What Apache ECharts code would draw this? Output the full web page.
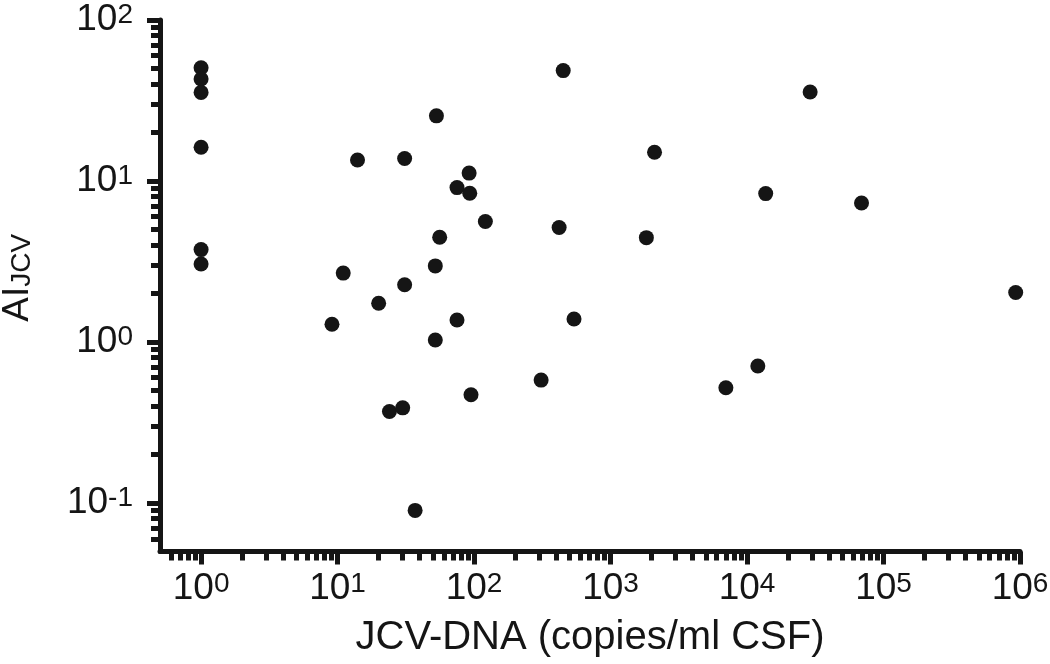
<!DOCTYPE html>
<html>
<head>
<meta charset="utf-8">
<title>AI JCV vs JCV-DNA</title>
<script src="https://cdn.jsdelivr.net/npm/echarts@6/dist/echarts.min.js"></script>
<style>
  html, body { margin: 0; padding: 0; background: #fff; }
  #chart { width: 1050px; height: 664px; }
</style>
</head>
<body>
<div id="chart"></div>
<script>
// JCV-DNA copies/ml CSF (x) and antibody index AI_JCV (y)
const jcvDna = [
  1, 1, 1, 1, 1, 1,
  53, 14, 31, 92, 75, 93, 121, 56,
  11, 52, 31, 20, 9.1, 75, 52,
  310, 95, 24, 30, 37,
  450, 29000, 2100, 13700, 69000, 420, 1830,
  930000, 540, 12000, 7000
];
const aiJcv = [
  50.5, 43, 35.5, 16.2, 3.75, 3.05,
  25.4, 13.5, 13.8, 11.2, 9.1, 8.4, 5.6, 4.47,
  2.68, 2.97, 2.27, 1.74, 1.29, 1.37, 1.03,
  0.58, 0.47, 0.37, 0.39, 0.09,
  48.5, 35.7, 15.1, 8.35, 7.3, 5.14, 4.45,
  2.03, 1.39, 0.71, 0.52
];

const xRange = [0.5, 1e6];
const yRange = [0.05, 100];
const xMajor = [1, 10, 100, 1e3, 1e4, 1e5, 1e6];
const yMajor = [0.1, 1, 10, 100];
const minorSteps = [2, 3, 4, 5, 6, 7, 8, 9];

// minor ticks at 2..9 of each decade, kept inside the axis range
const minorTicks = (decades, range) => {
  const out = [];
  decades.forEach(d => minorSteps.forEach(s => {
    const v = +(d * s).toPrecision(6);
    if (v > range[0] && v < range[1]) out.push(v);
  }));
  return out;
};
const xMinor = minorTicks([0.1, 1, 10, 100, 1e3, 1e4, 1e5], xRange);
const yMinor = minorTicks([0.01, 0.1, 1, 10], yRange);

const ink = '#151515';
const font = 'Liberation Sans, Arial, sans-serif';
const powLabel = (v) => '{m|10}{s|' + Math.round(Math.log10(v)) + '}';
const labelRich = {
  m: { fontSize: 37, lineHeight: 37, padding: [8, 0, 0, 0], verticalAlign: 'bottom', color: ink, fontFamily: font },
  s: { fontSize: 28, lineHeight: 28, verticalAlign: 'top', color: ink, fontFamily: font }
};

const majorAxis = (range, ticks, margin) => ({
  type: 'log',
  min: range[0],
  max: range[1],
  axisLine: { show: true, lineStyle: { color: ink, width: 5 } },
  axisTick: { show: true, customValues: ticks, length: 13, lineStyle: { color: ink, width: 5 } },
  axisLabel: { show: true, customValues: ticks, margin: margin, formatter: powLabel, rich: labelRich },
  splitLine: { show: false },
  minorTick: { show: false }
});

const minorAxis = (range, ticks, pos) => ({
  type: 'log',
  min: range[0],
  max: range[1],
  position: pos,
  axisLine: { show: false },
  axisTick: { show: true, customValues: ticks, length: 9, lineStyle: { color: ink, width: 5 } },
  axisLabel: { show: false },
  splitLine: { show: false }
});

const chart = echarts.init(document.getElementById('chart'));

chart.setOption({
  animation: false,
  backgroundColor: '#fff',
  grid: { left: 160, right: 30, top: 20, bottom: 112.5, containLabel: false, outerBoundsMode: 'none' },
  xAxis: [
    Object.assign(majorAxis(xRange, xMajor, 19), {
      position: 'bottom',
      name: 'JCV-DNA (copies/ml CSF)',
      nameLocation: 'middle',
      nameGap: 66,
      nameMoveOverlap: false,
      nameTextStyle: { fontSize: 40, color: ink, fontFamily: font }
    }),
    minorAxis(xRange, xMinor, 'bottom')
  ],
  yAxis: [
    Object.assign(majorAxis(yRange, yMajor, 27), {
      position: 'left',
      name: '{a|AI}{b|JCV}',
      nameLocation: 'middle',
      nameRotate: 90,
      nameGap: 124,
      nameMoveOverlap: false,
      nameTextStyle: {
        rich: {
          a: { fontSize: 37, lineHeight: 37, verticalAlign: 'top', padding: [0, 0, 0, 16], color: ink, fontFamily: font },
          b: { fontSize: 28, lineHeight: 28, verticalAlign: 'bottom', padding: [17, 0, 0, 0], color: ink, fontFamily: font }
        }
      }
    }),
    minorAxis(yRange, yMinor, 'left')
  ],
  series: [
    {
      type: 'scatter',
      xAxisIndex: 0,
      yAxisIndex: 0,
      symbol: 'circle',
      symbolSize: 15,
      itemStyle: { color: ink, opacity: 1 },
      data: jcvDna.map((x, i) => [x, aiJcv[i]])
    }
  ]
});

window.addEventListener('resize', () => chart.resize());
</script>
</body>
</html>
